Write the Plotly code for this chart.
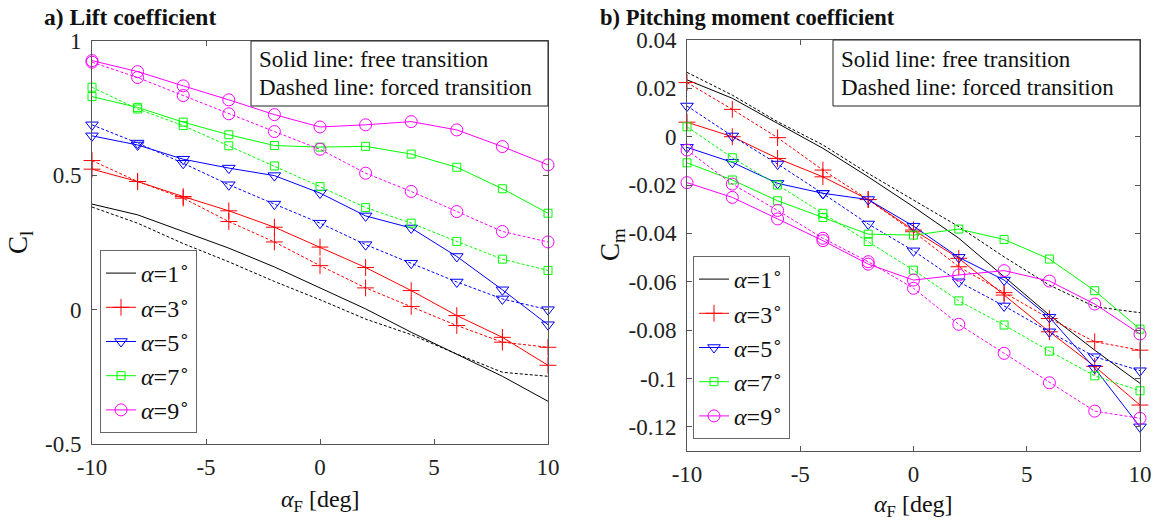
import plotly.graph_objects as go

W, H = 1160, 526

# ---------------- data ----------------
alpha_F = [-10, -8, -6, -4, -2, 0, 2, 4, 6, 8, 10]
alpha_labels = ["1", "3", "5", "7", "9"]

# Lift coefficient, free transition (solid)
cl_free_a1 = [0.393, 0.353, 0.291, 0.229, 0.159, 0.081, 0.003, -0.084, -0.167, -0.248, -0.341]
cl_free_a3 = [0.523, 0.477, 0.421, 0.368, 0.307, 0.233, 0.157, 0.071, -0.022, -0.103, -0.207]
cl_free_a5 = [0.647, 0.613, 0.560, 0.527, 0.499, 0.434, 0.349, 0.304, 0.198, 0.074, -0.056]
cl_free_a7 = [0.793, 0.753, 0.698, 0.651, 0.611, 0.605, 0.608, 0.579, 0.530, 0.450, 0.359]
cl_free_a9 = [0.927, 0.886, 0.833, 0.781, 0.726, 0.680, 0.688, 0.700, 0.669, 0.607, 0.539]
# Lift coefficient, forced transition (dashed)
cl_forced_a1 = [0.382, 0.322, 0.246, 0.178, 0.105, 0.037, -0.035, -0.093, -0.165, -0.233, -0.248]
cl_forced_a3 = [0.555, 0.477, 0.415, 0.328, 0.252, 0.164, 0.081, 0.012, -0.059, -0.121, -0.140]
cl_forced_a5 = [0.688, 0.620, 0.545, 0.465, 0.393, 0.322, 0.242, 0.173, 0.103, 0.040, 0.000]
cl_forced_a7 = [0.828, 0.747, 0.685, 0.610, 0.535, 0.458, 0.380, 0.322, 0.254, 0.188, 0.146]
cl_forced_a9 = [0.921, 0.864, 0.797, 0.729, 0.663, 0.597, 0.508, 0.440, 0.365, 0.291, 0.252]

# Pitching moment coefficient, free transition (solid)
cm_free_a1 = [0.0235, 0.0159, 0.0055, -0.0048, -0.0166, -0.0290, -0.0420, -0.0580, -0.0738, -0.0883, -0.1020]
cm_free_a3 = [0.0060, 0.0000, -0.0090, -0.0166, -0.0260, -0.0386, -0.0503, -0.0655, -0.0807, -0.0950, -0.1110]
cm_free_a5 = [-0.0044, -0.0106, -0.0193, -0.0234, -0.0260, -0.0370, -0.0499, -0.0593, -0.0747, -0.0958, -0.1200]
cm_free_a7 = [-0.0108, -0.0179, -0.0265, -0.0334, -0.0403, -0.0407, -0.0382, -0.0425, -0.0506, -0.0637, -0.0796]
cm_free_a9 = [-0.0190, -0.0251, -0.0340, -0.0430, -0.0527, -0.0593, -0.0572, -0.0554, -0.0597, -0.0692, -0.0816]
# Pitching moment coefficient, forced transition (dashed)
cm_forced_a1 = [0.0266, 0.0172, 0.0062, -0.0034, -0.0152, -0.0262, -0.0372, -0.0497, -0.0614, -0.0703, -0.0728]
cm_forced_a3 = [0.0224, 0.0113, -0.0004, -0.0138, -0.0260, -0.0393, -0.0538, -0.0645, -0.0752, -0.0848, -0.0883]
cm_forced_a5 = [0.0127, 0.0003, -0.0113, -0.0235, -0.0361, -0.0472, -0.0600, -0.0700, -0.0807, -0.0910, -0.0968]
cm_forced_a7 = [0.0041, -0.0087, -0.0200, -0.0317, -0.0434, -0.0552, -0.0679, -0.0779, -0.0887, -0.0989, -0.1051]
cm_forced_a9 = [-0.0055, -0.0196, -0.0305, -0.0420, -0.0517, -0.0627, -0.0776, -0.0896, -0.1018, -0.1135, -0.1165]

x_tickvals = [-10, -5, 0, 5, 10]
x_ticktext = ["-10", "-5", "0", "5", "10"]
cl_tickvals = [-0.5, 0, 0.5, 1]
cl_ticktext = ["-0.5", "0", "0.5", "1"]
cm_tickvals = [-0.12, -0.1, -0.08, -0.06, -0.04, -0.02, 0, 0.02, 0.04]
cm_ticktext = ["-0.12", "-0.1", "-0.08", "-0.06", "-0.04", "-0.02", "0", "0.02", "0.04"]

# ---------------- styles ----------------
FONT = "Liberation Serif, Times New Roman, serif"
colors = ["#000000", "#FF0000", "#0000FF", "#00FF00", "#FF00FF"]
symbols = [None, "cross-thin-open", "triangle-down-open", "square-open", "circle-open"]
msizes = [0, 12, 11, 8, 12]
DASH = "3px,2px"

cl_free = [cl_free_a1, cl_free_a3, cl_free_a5, cl_free_a7, cl_free_a9]
cl_forced = [cl_forced_a1, cl_forced_a3, cl_forced_a5, cl_forced_a7, cl_forced_a9]
cm_free = [cm_free_a1, cm_free_a3, cm_free_a5, cm_free_a7, cm_free_a9]
cm_forced = [cm_forced_a1, cm_forced_a3, cm_forced_a5, cm_forced_a7, cm_forced_a9]


def px(x):
    return x / W


def py(y):
    return 1 - y / H


fig = go.Figure()


def add_series(free, forced, xa, ya, legend):
    for i in range(5):
        name = "<i>α</i>=" + alpha_labels[i] + "<sup>∘</sup>"
        mode = "lines" if symbols[i] is None else "lines+markers"
        mk = dict(size=msizes[i], color=colors[i], line=dict(width=1, color=colors[i]))
        if symbols[i] is not None:
            mk["symbol"] = symbols[i]
        fig.add_trace(go.Scatter(
            x=alpha_F, y=forced[i], mode=mode, xaxis=xa, yaxis=ya,
            line=dict(color=colors[i], width=1, dash=DASH), cliponaxis=False,
            marker=mk, showlegend=False, hoverinfo="skip"))
        fig.add_trace(go.Scatter(
            x=alpha_F, y=free[i], mode=mode, xaxis=xa, yaxis=ya, name=name,
            line=dict(color=colors[i], width=1), marker=mk, cliponaxis=False,
            legend=legend, legendgroup=legend + str(i), showlegend=True))


add_series(cl_free, cl_forced, "x", "y", "legend")
add_series(cm_free, cm_forced, "x2", "y2", "legend2")

AX = "#555555"
TICKF = dict(family=FONT, size=23, color="#222222")


def axis(domain, rng, tv, tt, anchor, standoff):
    return dict(domain=domain, range=rng, tickvals=tv, ticktext=tt, anchor=anchor,
                ticks="inside", ticklen=5, tickcolor=AX, showline=True, linecolor=AX,
                linewidth=1, mirror="ticks", showgrid=False, zeroline=False,
                tickfont=TICKF, ticklabelstandoff=standoff, automargin=False)


legend_common = dict(
    font=dict(family=FONT, size=24, color="#111111"),
    bgcolor="white", bordercolor="#666666", borderwidth=1,
    xanchor="left", yanchor="top", tracegroupgap=0, itemwidth=30,
)

fig.update_layout(
    width=W, height=H,
    margin=dict(l=0, r=0, t=0, b=0, pad=0, autoexpand=False),
    paper_bgcolor="white", plot_bgcolor="white",
    xaxis=axis([px(92), px(548)], [-10, 10], x_tickvals, x_ticktext, "y", 2),
    yaxis=axis([py(444), py(41)], [-0.5, 1], cl_tickvals, cl_ticktext, "x", 5),
    xaxis2=axis([px(687), px(1140)], [-10, 10], x_tickvals, x_ticktext, "y2", 2),
    yaxis2=axis([py(451), py(40)], [-0.13, 0.04], cm_tickvals, cm_ticktext, "x2", 5),
    legend=dict(x=px(100), y=py(250), **legend_common),
    legend2=dict(x=px(693), y=py(256), **legend_common),
    showlegend=True,
)


def note(x, y, text, size, bold=False, xanchor="center", angle=0):
    fig.add_annotation(x=px(x), y=py(y), xref="paper", yref="paper",
                       xanchor=xanchor, yanchor="middle", showarrow=False,
                       textangle=angle, text=("<b>" + text + "</b>") if bold else text,
                       font=dict(family=FONT, size=size, color="#111111"))


# text boxes
for (x0, x1, y0, y1) in [(251, 548, 41, 106), (833, 1140, 40, 106)]:
    fig.add_shape(type="rect", xref="paper", yref="paper",
                  x0=px(x0), x1=px(x1), y0=py(y1), y1=py(y0),
                  line=dict(color="#222222", width=1), fillcolor="white", layer="above")
    note(x0 + 6, 60, "Solid line: free transition", 23, xanchor="left")
    note(x0 + 6, 87, "Dashed line: forced transition", 23, xanchor="left")

# titles
note(42, 17, "a) Lift coefficient", 23.5, bold=True, xanchor="left")
note(598, 17, "b) Pitching moment coefficient", 22.5, bold=True, xanchor="left")

# axis titles
note(20, 243, "C<sub>l</sub>", 27, angle=-90)
note(612, 245, "C<sub>m</sub>", 27, angle=-90)
note(320, 501, "<i>α</i><sub>F</sub> [deg]", 24)
note(913, 506, "<i>α</i><sub>F</sub> [deg]", 24)

fig.write_html("out.html", config={"displayModeBar": False},
               post_script="document.body.style.margin='0';document.body.style.overflow='hidden';")
